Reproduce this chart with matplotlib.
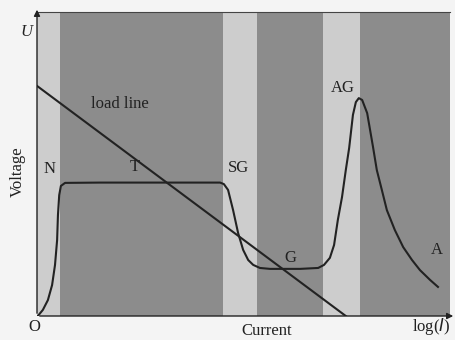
import numpy as np
import matplotlib
matplotlib.use("Agg")
import matplotlib.pyplot as plt

# band edges along log(I) and their shade (alternating light / dark)
band_edges = [0, 0.55, 4.44, 5.25, 6.83, 7.71, 9.86]
band_shade = ['light', 'dark', 'light', 'dark', 'light', 'dark']

# U-I curve (x = log(I), y = voltage)
curve_x = [0, 0.02, 0.14, 0.26, 0.36, 0.43, 0.48, 0.50, 0.53, 0.57, 0.67, 1.50,
           4.37, 4.46, 4.56, 4.68, 4.80, 4.92, 5.04, 5.16, 5.32, 5.56, 6.28,
           6.71, 6.85, 6.99, 7.09, 7.18, 7.28, 7.37, 7.45, 7.54, 7.61, 7.68,
           7.76, 7.88, 8.02, 8.11, 8.23, 8.35, 8.54, 8.74, 8.95, 9.14, 9.38,
           9.57]
curve_y = [0, 0.0, 0.20, 0.52, 1.01, 1.67, 2.48, 3.30, 3.95, 4.25, 4.35, 4.36,
           4.36, 4.31, 4.12, 3.46, 2.71, 2.16, 1.83, 1.67, 1.57, 1.54, 1.54,
           1.57, 1.67, 1.90, 2.32, 3.14, 3.89, 4.77, 5.49, 6.57, 6.99, 7.12,
           7.06, 6.63, 5.52, 4.77, 4.12, 3.46, 2.81, 2.25, 1.83, 1.50, 1.18,
           0.95]

# load line end points
load_x = [0, 7.37]
load_y = [7.52, 0]

# region labels
labels = ['N', 'T', 'SG', 'G', 'AG', 'A']
label_x = [0.29, 2.34, 4.80, 6.04, 7.30, 9.55]
label_y = [4.80, 4.87, 4.84, 1.90, 7.45, 2.16]

colors = {'light': '#cdcdcd', 'dark': '#8c8c8c'}
ink = '#222222'

plt.rcParams['font.family'] = ['Liberation Serif', 'DejaVu Serif']

fig = plt.figure(figsize=(4.56, 3.4), dpi=100)
fig.patch.set_facecolor('#f4f4f4')
ax = fig.add_axes([37/456, 24/340, 419/456, 306/340])
ax.set_xlim(0, 10)
ax.set_ylim(0, 10)
ax.axis('off')

#-----------------------------------
# background bands
#-----------------------------------
top = 9.93
for i in range(len(band_shade)):
    ax.axvspan(band_edges[i], band_edges[i+1], ymin=0, ymax=top/10,
               color=colors[band_shade[i]], lw=0, zorder=0)
ax.plot([0, band_edges[-1]], [top, top], color='#444444', lw=0.8, zorder=1)

# axes with arrows
ax.annotate('', xy=(10, 0), xytext=(0, 0),
            arrowprops=dict(arrowstyle='-|>', color=ink, lw=1.0,
                            mutation_scale=9), annotation_clip=False)
ax.annotate('', xy=(0, 10.1), xytext=(0, 0),
            arrowprops=dict(arrowstyle='-|>', color=ink, lw=1.0,
                            mutation_scale=9), annotation_clip=False)

ax.plot(load_x, load_y, color=ink, lw=1.5, zorder=3)
ax.plot(curve_x, curve_y, color=ink, lw=1.5, zorder=4,
        solid_joinstyle='round')

for lab, x, y in zip(labels, label_x, label_y):
    ax.text(x, y, lab, fontsize=12, color=ink, ha='center', va='center')

ax.text(1.98, 6.93, 'load line', fontsize=12, color=ink, ha='center', va='center')
ax.text(-0.24, 9.28, 'U', fontsize=12, style='italic', color=ink,
        ha='center', va='center', clip_on=False)
ax.text(-0.07, -0.36, 'O', fontsize=12, color=ink, ha='center', va='center',
        clip_on=False)
ax.text(5.47, -0.49, 'Current', fontsize=12, color=ink, ha='center',
        va='center', clip_on=False)
ax.text(9.40, -0.33, r'log($\mathit{I}$)', fontsize=12, color=ink,
        ha='center', va='center', clip_on=False)
ax.text(-0.45, 4.71, 'Voltage', fontsize=12, color=ink, rotation=90,
        ha='center', va='center', clip_on=False)

plt.savefig('out.png', dpi=100, facecolor=fig.get_facecolor())
